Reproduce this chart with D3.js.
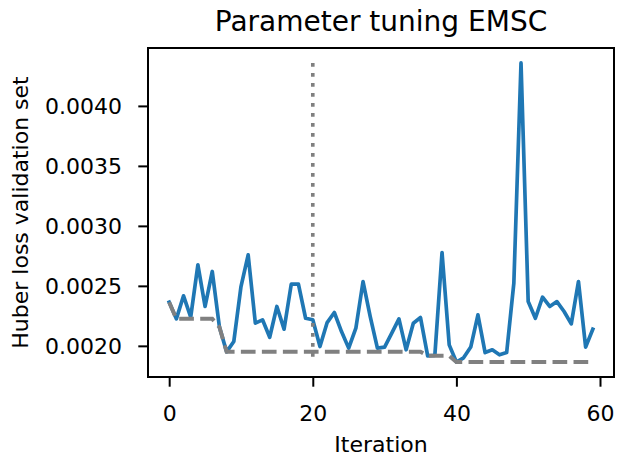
<!DOCTYPE html>
<html><head><meta charset="utf-8">
<script src="https://cdn.jsdelivr.net/npm/d3@7"></script>
<style>
body{margin:0;background:#fff;}
svg{display:block;font-family:"DejaVu Sans",sans-serif;}
</style></head><body>
<svg id="c" width="617" height="456"></svg>
<script>
const iterations = d3.range(60);
const loss = [
0.002364,0.002225,0.002417,0.002240,0.002675,0.002328,0.002620,0.002156,0.001950,0.002036,
0.002494,0.002758,0.002189,0.002217,0.002072,0.002328,0.002139,0.002514,0.002514,0.002230,
0.002217,0.001994,0.002194,0.002278,0.002119,0.001981,0.002147,0.002536,0.002244,0.001981,
0.001989,0.002106,0.002225,0.001967,0.002189,0.002236,0.001917,0.001920,0.002778,0.002008,
0.001865,0.001900,0.001990,0.002258,0.001944,0.001967,0.001925,0.001944,0.002522,0.004358,
0.002369,0.002230,0.002406,0.002328,0.002369,0.002286,0.002183,0.002536,0.001989,0.002139];
const bestSoFar = [
0.002364,0.002225,0.002225,0.002225,0.002225,0.002225,0.002225,0.002156,0.001950,0.001950,
0.001950,0.001950,0.001950,0.001950,0.001950,0.001950,0.001950,0.001950,0.001950,0.001950,
0.001950,0.001950,0.001950,0.001950,0.001950,0.001950,0.001950,0.001950,0.001950,0.001950,
0.001950,0.001950,0.001950,0.001950,0.001950,0.001950,0.001917,0.001917,0.001917,0.001917,
0.001865,0.001865,0.001865,0.001865,0.001865,0.001865,0.001865,0.001865,0.001865,0.001865,
0.001865,0.001865,0.001865,0.001865,0.001865,0.001865,0.001865,0.001865,0.001865,0.001865];
const markerIteration = 20;
const xTicks = [0,20,40,60];
const yTicks = [0.0020,0.0025,0.0030,0.0035,0.0040];
const title = "Parameter tuning EMSC";
const xLabel = "Iteration";
const yLabel = "Huber loss validation set";

const svg = d3.select("#c");
const L = 148, R = 614, T = 48, B = 377;
const xmin = 0, xmax = 59;
const xpad = (xmax - xmin) * 0.05;
const ymin = d3.min(loss.concat(bestSoFar)), ymax = d3.max(loss);
const ypad = (ymax - ymin) * 0.05;
const x = d3.scaleLinear().domain([xmin - xpad, xmax + xpad]).range([L, R]);
const y = d3.scaleLinear().domain([ymin - ypad, ymax + ypad]).range([B, T]);

svg.append("defs").append("clipPath").attr("id","cp")
  .append("rect").attr("x",L).attr("y",T).attr("width",R-L).attr("height",B-T);

const g = svg.append("g").attr("clip-path","url(#cp)");
const line = d3.line().x((d,i)=>x(iterations[i])).y(d=>y(d));
g.append("path").datum(loss).attr("d",line).attr("fill","none")
  .attr("stroke","#1f77b4").attr("stroke-width",3.7).attr("stroke-linejoin","round").attr("stroke-linecap","square");
g.append("path").datum(bestSoFar).attr("d",line).attr("fill","none")
  .attr("stroke","#808080").attr("stroke-width",4).attr("stroke-dasharray","14.7,6.3");
svg.append("line").attr("x1",x(markerIteration)).attr("x2",x(markerIteration))
  .attr("y1",y(ymax)).attr("y2",y(ymin))
  .attr("stroke","#808080").attr("stroke-width",3.6).attr("stroke-dasharray","3.8,6.2");

// axes
const xa = svg.append("g").attr("transform",`translate(0,${B})`)
  .call(d3.axisBottom(x).tickValues(xTicks).tickSize(9.7).tickFormat(d3.format("d")));
const ya = svg.append("g").attr("transform",`translate(${L},0)`)
  .call(d3.axisLeft(y).tickValues(yTicks).tickSize(9.7).tickFormat(d3.format(".4f")));
[xa,ya].forEach(a=>{
  a.select(".domain").remove();
  a.selectAll(".tick line").attr("stroke","#000").attr("stroke-width",2);
  a.selectAll(".tick text").attr("fill","#000").attr("font-size","22px").attr("font-family","DejaVu Sans");
});
xa.selectAll(".tick text").attr("dy",null).attr("y",421-B);
ya.selectAll(".tick text").attr("x",122-L).attr("dy","0.36em");
svg.append("rect").attr("x",L).attr("y",T).attr("width",R-L).attr("height",B-T)
  .attr("fill","none").attr("stroke","#000").attr("stroke-width",2);

svg.append("text").attr("x",(L+R)/2).attr("y",31).attr("text-anchor","middle")
  .attr("font-size","28px").attr("fill","#000").text(title);
svg.append("text").attr("x",(L+R)/2).attr("y",452).attr("text-anchor","middle")
  .attr("font-size","22px").attr("fill","#000").text(xLabel);
svg.append("text").attr("transform",`translate(28,${(T+B)/2}) rotate(-90)`).attr("text-anchor","middle")
  .attr("font-size","22px").attr("fill","#000").text(yLabel);
</script>
</body></html>
